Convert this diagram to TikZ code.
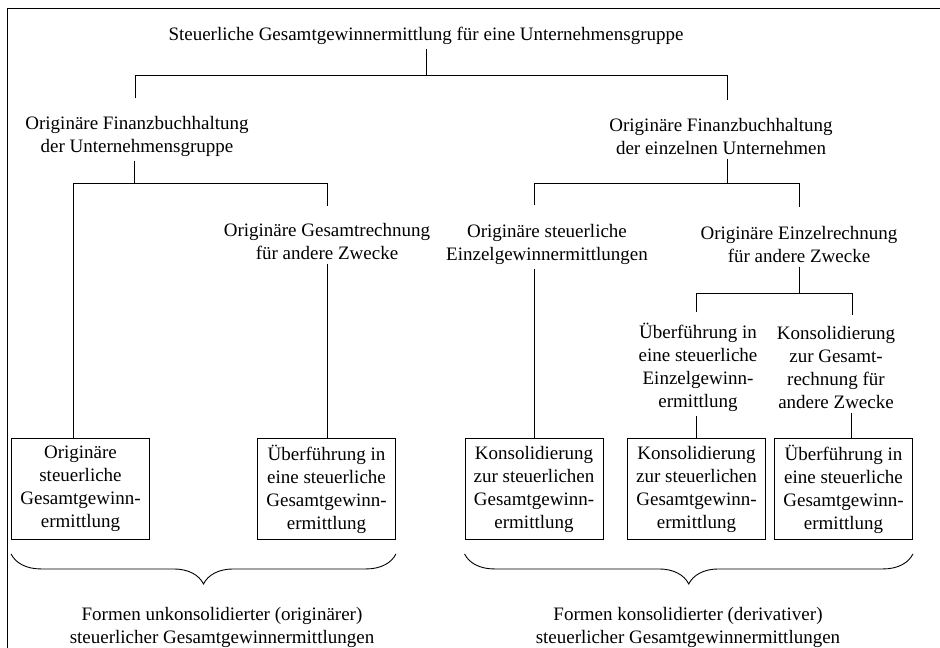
\documentclass[tikz,border=0pt]{standalone}
\usepackage{fontspec}
\setmainfont{Liberation Serif}
\usepackage{tikz}
\usetikzlibrary{decorations.pathreplacing}
\tikzset{%
  every picture/.style={
    line width=0.9pt
  },
  stext/.style={
    align=center,
    inner xsep=2pt,
    inner ysep=4pt,
    font=\fontsize{19}{23}\selectfont
  },
  sbox/.style={
    draw,
    rectangle,
    align=center,
    inner sep=0pt,
    minimum width=138pt,
    minimum height=101pt,
    font=\fontsize{19}{23}\selectfont
  },
  sbrace/.style={
    decorate,
    decoration={brace,mirror,amplitude=30pt}
  },
}

\begin{document}
\begin{tikzpicture}
  \useasboundingbox (0pt,0pt) rectangle (940pt,-648pt);
  \draw (7pt,-648pt) -- (7pt,-8pt) -- (940pt,-8pt);

  \node (t) [xshift=426pt,yshift=-36pt,stext]
  {Steuerliche Gesamtgewinnermittlung für eine Unternehmensgruppe};
  \node (fa) [xshift=137pt,yshift=-136pt,stext]
  {Originäre Finanzbuchhaltung\\der Unternehmensgruppe};
  \node (fb) [xshift=721pt,yshift=-136pt,stext]
  {Originäre Finanzbuchhaltung\\der einzelnen Unternehmen};
  \node (ga) [xshift=327pt,yshift=-241pt,stext]
  {Originäre Gesamtrechnung\\für andere Zwecke};
  \node (gb) [xshift=547pt,yshift=-244pt,stext]
  {Originäre steuerliche\\Einzelgewinnermittlungen};
  \node (gc) [xshift=799pt,yshift=-244pt,stext]
  {Originäre Einzelrechnung\\für andere Zwecke};
  \node (ha) [xshift=698pt,yshift=-367pt,stext]
  {Überführung in\\eine steuerliche\\Einzelgewinn-\\ermittlung};
  \node (hb) [xshift=836pt,yshift=-367pt,stext]
  {Konsolidierung\\zur Gesamt-\\rechnung für\\andere Zwecke};

  \node (k1) [xshift=80.5pt,yshift=-489pt,sbox]
  {Originäre\\steuerliche\\Gesamtgewinn-\\ermittlung};
  \node (k2) [xshift=326.5pt,yshift=-489pt,sbox]
  {Überführung in\\eine steuerliche\\Gesamtgewinn-\\ermittlung};
  \node (k3) [xshift=534pt,yshift=-489pt,sbox]
  {Konsolidierung\\zur steuerlichen\\Gesamtgewinn-\\ermittlung};
  \node (k4) [xshift=696.5pt,yshift=-489pt,sbox]
  {Konsolidierung\\zur steuerlichen\\Gesamtgewinn-\\ermittlung};
  \node (k5) [xshift=843.5pt,yshift=-489pt,sbox]
  {Überführung in\\eine steuerliche\\Gesamtgewinn-\\ermittlung};

  \node (s1) [xshift=222pt,yshift=-627pt,stext]
  {Formen unkonsolidierter (originärer)\\steuerlicher Gesamtgewinnermittlungen};
  \node (s2) [xshift=688pt,yshift=-627pt,stext]
  {Formen konsolidierter (derivativer)\\steuerlicher Gesamtgewinnermittlungen};

  \coordinate (b1) at (0pt,-75pt);
  \coordinate (b2) at (0pt,-183pt);
  \coordinate (b4) at (0pt,-293pt);

  % first level
  \draw (t.south) -- (t.south |- b1);
  \draw ([xshift=-2pt,yshift=13pt]fa.north) |- ([xshift=6pt]fb.north |- b1)
    -- ([xshift=6pt,yshift=13pt]fb.north);

  % left side
  \draw ([xshift=-3pt]fa.south) -- ([xshift=-3pt]fa.south |- b2);
  \draw ([xshift=-7pt]k1.north) |- (ga.north |- b2) -- ([yshift=12pt]ga.north);
  \draw (ga.south) -- (ga.south |- k2.north);

  % right side
  \draw ([xshift=6pt]fb.south) -- ([xshift=6pt]fb.south |- b2);
  \draw ([yshift=14pt]gb.north -| k3.north) |- (gc.north |- b2)
    -- ([yshift=14pt]gc.north);
  \draw (k3.north |- gb.south) -- (k3.north);
  \draw (gc.south) -- (gc.south |- b4);
  \draw ([yshift=6pt]ha.north -| k4.north) |- ([xshift=16pt]hb.north |- b4)
    -- ([xshift=16pt,yshift=6pt]hb.north);
  \draw (k4.north |- ha.south) -- (k4.north);
  \draw ([xshift=8pt]k5.north |- hb.south) -- ([xshift=8pt]k5.north);

  % braces
  \draw [sbrace] ([yshift=-14pt]k1.south west) -- ([yshift=-14pt]k2.south east);
  \draw [sbrace] ([yshift=-14pt]k3.south west) -- ([yshift=-14pt]k5.south east);
\end{tikzpicture}
\end{document}
